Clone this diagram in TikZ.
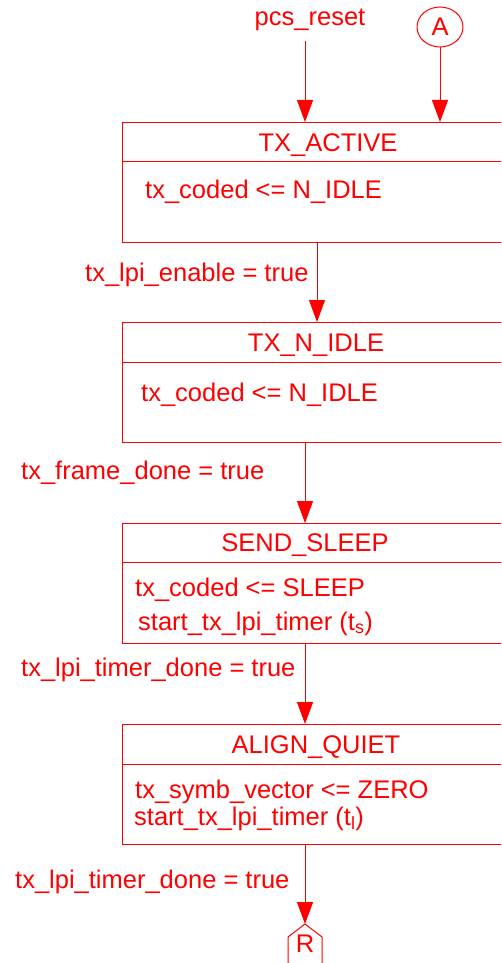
\documentclass[tikz,border=0pt]{standalone}
\usepackage{fontspec}
\setmainfont{Liberation Sans}
\usetikzlibrary{arrows.meta,shapes.geometric}
\definecolor{ink}{RGB}{255,0,0}
\tikzset{
  stbox/.style={draw=ink, line width=1pt, minimum width=420pt, minimum height=120pt,
    inner sep=0pt, anchor=north west},
  lbl/.style={text=ink, inner sep=0pt, anchor=base west, font=\fontsize{25.5}{30}\selectfont},
  ttl/.style={text=ink, inner sep=0pt, anchor=base, font=\fontsize{25.5}{30}\selectfont},
  arr/.style={draw=ink, line width=1pt, -{Triangle[length=22pt,width=16pt]}},
  wire/.style={draw=ink, line width=1pt},
}
\begin{document}
\begin{tikzpicture}[x=1pt,y=-1pt]
\useasboundingbox (0,0) rectangle (501,963);
\clip (0,0) rectangle (501,963);

% state boxes
\node[stbox] (b1) at (122,122) {};
\node[stbox] (b2) at (122,322) {};
\node[stbox] (b3) at (122,523) {};
\node[stbox] (b4) at (122,724) {};
\draw[wire] (122,161) -- (542,161);
\draw[wire] (122,362) -- (542,362);
\draw[wire] (122,562) -- (542,562);
\draw[wire] (122,764) -- (542,764);

% titles
\node[ttl] (t1) at (328,151) {TX\_ACTIVE};
\node[ttl] (t2) at (316,351) {TX\_N\_IDLE};
\node[ttl] (t3) at (305,551) {SEND\_SLEEP};
\node[ttl] (t4) at (316,753) {ALIGN\_QUIET};

% actions
\node[lbl] (a1) at (145,198) {tx\_coded <= N\_IDLE};
\node[lbl] (a2) at (141,401) {tx\_coded <= N\_IDLE};
\node[lbl] (a3) at (135,596) {tx\_coded <= SLEEP};
\node[lbl] (a3b) at (138,630) {start\_tx\_lpi\_timer (t\textsubscript{s})};
\node[lbl] (a4) at (135,798) {tx\_symb\_vector <= ZERO};
\node[lbl] (a4b) at (134,825) {start\_tx\_lpi\_timer (t\textsubscript{l})};

% entry points
\node[ttl] (reset) at (310,26) {pcs\_reset};
\node[draw=ink, line width=1pt, ellipse, minimum width=46pt, minimum height=40pt,
  inner sep=0pt, text=ink, font=\fontsize{25.5}{30}\selectfont] (A) at (440,27) {A};
\coordinate (rs) at (305,41);

% exit connector R
\coordinate (r) at (305,924);
\draw[wire] (288,970) -- (288,937) -- (r) -- (322,937) -- (322,970);
\node[ttl] (R) at (305,952) {R};

% transitions
\draw[arr] (rs) -- (rs |- b1.north);
\draw[arr] (A.south) -- (A.south |- b1.north);
\coordinate (c1) at (317,242);
\draw[arr] (c1) -- (c1 |- b2.north);
\coordinate (c2) at (305,442);
\draw[arr] (c2) -- (c2 |- b3.north);
\coordinate (c3) at (305,643);
\draw[arr] (c3) -- (c3 |- b4.north);
\coordinate (c4) at (305,844);
\draw[arr] (c4) -- (r);

% transition conditions
\node[lbl] (g1) at (85,281) {tx\_lpi\_enable = true};
\node[lbl] (g2) at (21,479) {tx\_frame\_done = true};
\node[lbl] (g3) at (21,676) {tx\_lpi\_timer\_done = true};
\node[lbl] (g4) at (15,888) {tx\_lpi\_timer\_done = true};
\end{tikzpicture}
\end{document}
